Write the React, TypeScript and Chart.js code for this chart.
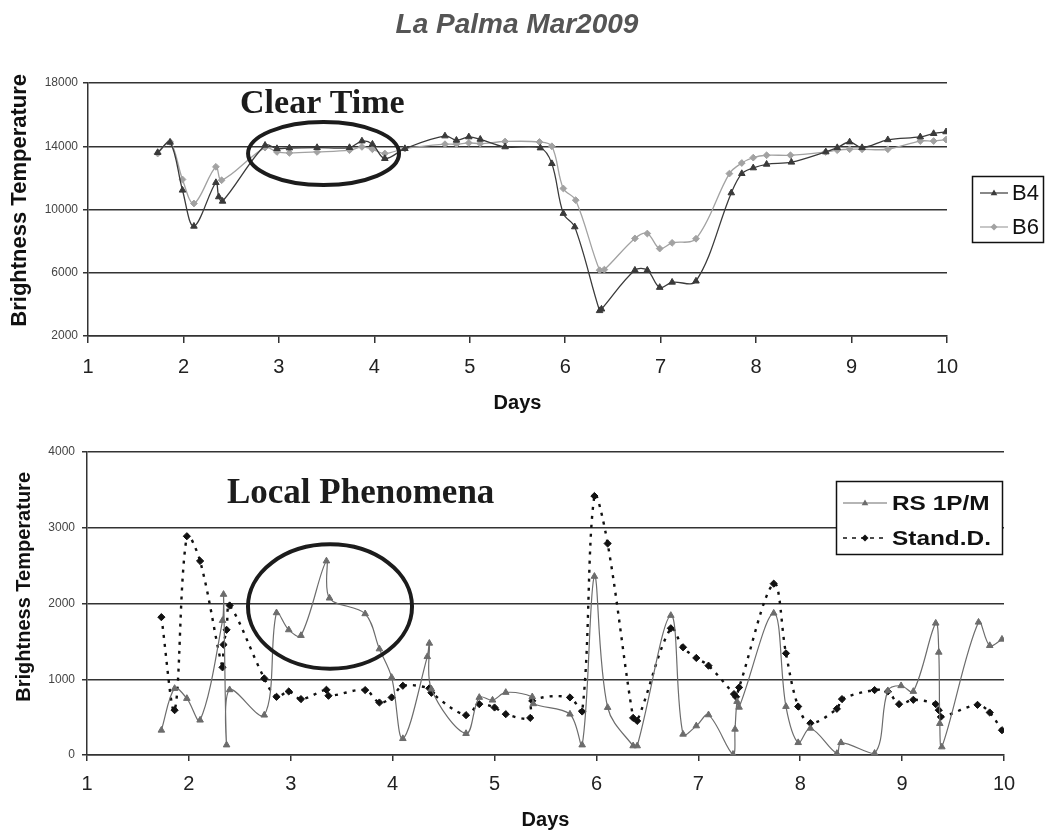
import React, { useEffect, useRef } from "react";
import { Chart, registerables } from "chart.js";

Chart.register(...registerables);

// ---- text ----
const chartTitle = "La Palma Mar2009";
const xTitle = "Days";
const yTitle = "Brightness Temperature";

// ---- axes ----
const dayTicks = [1, 2, 3, 4, 5, 6, 7, 8, 9, 10];
const upperTicks = [2000, 6000, 10000, 14000, 18000];
const lowerTicks = [0, 1000, 2000, 3000, 4000];

// ---- upper panel: band brightness temperatures ----
const b4Days = [1.73, 1.86, 1.99, 2.11, 2.34, 2.37, 2.41, 2.855, 2.98, 3.11, 3.40, 3.74, 3.87, 3.98, 4.11, 4.32, 4.74, 4.86, 4.99, 5.11, 5.37, 5.74, 5.86, 5.98, 6.10, 6.36, 6.38, 6.73, 6.86, 6.99, 7.12, 7.37, 7.74, 7.85, 7.97, 8.11, 8.37, 8.73, 8.85, 8.98, 9.11, 9.38, 9.72, 9.86, 9.99];
const b4Values = [13600, 14250, 11220, 8940, 11700, 10800, 10520, 14060, 13850, 13890, 13915, 13915, 14330, 14130, 13220, 13850, 14650, 14380, 14590, 14440, 13960, 13890, 12900, 9750, 8900, 3600, 3700, 6160, 6160, 5070, 5400, 5470, 11050, 12270, 12630, 12860, 12990, 13640, 13910, 14270, 13910, 14410, 14590, 14800, 14910];

const b6Days = [1.73, 1.86, 1.99, 2.11, 2.34, 2.40, 2.855, 2.98, 3.11, 3.40, 3.74, 3.87, 3.98, 4.11, 4.32, 4.74, 4.86, 4.99, 5.11, 5.37, 5.73, 5.86, 5.98, 6.11, 6.36, 6.41, 6.73, 6.86, 6.99, 7.12, 7.37, 7.72, 7.85, 7.97, 8.11, 8.36, 8.73, 8.85, 8.98, 9.11, 9.38, 9.72, 9.86, 9.99];
const b6Values = [13540, 14270, 11900, 10380, 12700, 11850, 13915, 13640, 13580, 13640, 13750, 13960, 13810, 13540, 13850, 14130, 14130, 14210, 14170, 14300, 14270, 14000, 11330, 10590, 6160, 6200, 8170, 8480, 7530, 7890, 8150, 12270, 12940, 13280, 13430, 13430, 13640, 13750, 13810, 13810, 13810, 14330, 14330, 14420];

// ---- lower panel: RS 1P/M and standard deviation ----
const rsDays = [1.73, 1.86, 1.98, 2.11, 2.33, 2.34, 2.37, 2.40, 2.74, 2.86, 2.98, 3.10, 3.35, 3.38, 3.73, 3.87, 3.99, 4.10, 4.34, 4.36, 4.38, 4.72, 4.85, 4.98, 5.11, 5.37, 5.38, 5.74, 5.86, 5.98, 6.11, 6.36, 6.40, 6.73, 6.85, 6.98, 7.10, 7.34, 7.36, 7.38, 7.40, 7.74, 7.86, 7.98, 8.10, 8.36, 8.40, 8.73, 8.86, 8.99, 9.11, 9.33, 9.36, 9.37, 9.39, 9.75, 9.86, 9.98];
const rsValues = [327, 878, 746, 460, 1775, 2120, 132, 861, 526, 1877, 1652, 1577, 2561, 2071, 1864, 1400, 1024, 216, 1298, 1475, 870, 283, 760, 724, 826, 768, 676, 539, 132, 2358, 627, 120, 120, 1842, 274, 384, 530, 9, 340, 706, 630, 1872, 640, 163, 353, 20, 163, 22, 848, 914, 839, 1740, 1356, 415, 106, 1753, 1444, 1528];

const sdDays = [1.73, 1.86, 1.98, 2.11, 2.33, 2.34, 2.37, 2.40, 2.74, 2.86, 2.98, 3.10, 3.35, 3.37, 3.73, 3.87, 3.99, 4.10, 4.36, 4.38, 4.72, 4.85, 5.00, 5.11, 5.35, 5.37, 5.74, 5.86, 5.98, 6.11, 6.36, 6.40, 6.73, 6.85, 6.98, 7.10, 7.35, 7.37, 7.40, 7.74, 7.86, 7.98, 8.10, 8.36, 8.41, 8.73, 8.86, 8.97, 9.11, 9.33, 9.36, 9.38, 9.74, 9.86, 9.98];
const sdValues = [1820, 592, 2888, 2561, 1157, 1457, 1652, 1974, 1011, 768, 839, 738, 861, 782, 857, 693, 760, 914, 881, 821, 526, 671, 627, 539, 490, 715, 760, 574, 3419, 2792, 490, 450, 1673, 1422, 1281, 1179, 804, 768, 892, 2262, 1342, 640, 420, 610, 738, 857, 839, 671, 729, 671, 592, 503, 662, 561, 327];

const SANS = '"Liberation Sans", Arial, Helvetica, sans-serif';
const SERIF = '"Liberation Serif", "Times New Roman", serif';
const INK = "#333333";

type Note = { text: string; x: number; y: number; size: number };
type Ring = { cx: number; cy: number; rx: number; ry: number };
type LegendItem = { label: string; color: string; marker: "triangle" | "diamond"; dash: number[]; y: number };
type LegendBox = { left: number; top: number; width: number; height: number; lineX0: number; lineX1: number; textX: number; font: string; stretch: number; items: LegendItem[] };

const pairs = (xs: number[], ys: number[]) => xs.map((x, i) => ({ x, y: ys[i] }));

function drawMarker(ctx: CanvasRenderingContext2D, kind: string, x: number, y: number, r: number, color: string) {
  ctx.beginPath();
  if (kind === "triangle") {
    ctx.moveTo(x, y - r);
    ctx.lineTo(x + r * 0.95, y + r * 0.65);
    ctx.lineTo(x - r * 0.95, y + r * 0.65);
  } else {
    ctx.moveTo(x, y - r);
    ctx.lineTo(x + r, y);
    ctx.lineTo(x, y + r);
    ctx.lineTo(x - r, y);
  }
  ctx.closePath();
  ctx.fillStyle = color;
  ctx.fill();
}

// Page heading, centred over the whole figure rather than the plot area.
function headingPlugin(text: string, cx: number, cy: number) {
  return {
    id: "heading",
    afterDraw(chart: any) {
      const { ctx } = chart;
      ctx.save();
      ctx.font = `italic bold 28px ${SANS}`;
      ctx.fillStyle = "#555555";
      ctx.textAlign = "center";
      ctx.textBaseline = "middle";
      ctx.fillText(text, cx, cy);
      ctx.restore();
    },
  };
}

// Caption text plus an ellipse highlighting a region, both placed in data units.
function notesPlugin(id: string, note: Note, ring: Ring) {
  return {
    id,
    afterDatasetsDraw(chart: any) {
      const { ctx, scales } = chart;
      const x = scales.x;
      const y = scales.y;
      ctx.save();
      ctx.fillStyle = "#1c1c1c";
      ctx.font = `bold ${note.size}px ${SERIF}`;
      ctx.textAlign = "left";
      ctx.textBaseline = "alphabetic";
      ctx.fillText(note.text, x.getPixelForValue(note.x), y.getPixelForValue(note.y));
      const cx = x.getPixelForValue(ring.cx);
      const cy = y.getPixelForValue(ring.cy);
      const rx = Math.abs(x.getPixelForValue(ring.cx + ring.rx) - cx);
      const ry = Math.abs(y.getPixelForValue(ring.cy + ring.ry) - cy);
      ctx.beginPath();
      ctx.ellipse(cx, cy, rx, ry, 0, 0, Math.PI * 2);
      ctx.lineWidth = 4;
      ctx.strokeStyle = "#1c1c1c";
      ctx.stroke();
      ctx.restore();
    },
  };
}

// Boxed legend in the spreadsheet style.
function boxLegendPlugin(id: string, box: LegendBox) {
  return {
    id,
    afterDraw(chart: any) {
      const { ctx } = chart;
      ctx.save();
      ctx.fillStyle = "#ffffff";
      ctx.fillRect(box.left, box.top, box.width, box.height);
      ctx.lineWidth = 1.5;
      ctx.strokeStyle = "#111111";
      ctx.strokeRect(box.left, box.top, box.width, box.height);
      for (const it of box.items) {
        ctx.beginPath();
        ctx.setLineDash(it.dash);
        ctx.lineWidth = it.dash.length ? 1.6 : 1.2;
        ctx.strokeStyle = it.color;
        ctx.moveTo(box.lineX0, it.y);
        ctx.lineTo(box.lineX1, it.y);
        ctx.stroke();
        ctx.setLineDash([]);
        drawMarker(ctx, it.marker, (box.lineX0 + box.lineX1) / 2, it.y, 3.5, it.color);
        ctx.save();
        ctx.translate(box.textX, it.y);
        ctx.scale(box.stretch, 1);
        ctx.font = box.font;
        ctx.fillStyle = "#111111";
        ctx.textAlign = "left";
        ctx.textBaseline = "middle";
        ctx.fillText(it.label, 0, 1);
        ctx.restore();
      }
      ctx.restore();
    },
  };
}

type AxisSpec = {
  yMin: number;
  yMax: number;
  yTicks: number[];
  yWidth: number;
  yTickPad: number;
  yTitle: string;
  yTitleSize: number;
  yTitlePad: number;
  xHeight: number;
  xTickLen: number;
  xTickPad: number;
  xTitlePad: number;
};

function buildScales(s: AxisSpec) {
  return {
    x: {
      type: "linear",
      min: 1,
      max: 10,
      afterBuildTicks: (scale: any) => {
        scale.ticks = dayTicks.map((value) => ({ value }));
      },
      afterFit: (scale: any) => {
        scale.height = s.xHeight;
      },
      grid: { drawOnChartArea: false, drawTicks: true, tickLength: s.xTickLen, color: INK, lineWidth: 1.5 },
      border: { display: true, color: INK, width: 1.5 },
      ticks: {
        padding: s.xTickPad,
        color: "#222222",
        font: { family: SANS, size: 20 },
        maxRotation: 0,
        autoSkip: false,
        callback: (v: any) => `${v}`,
      },
      title: {
        display: true,
        text: xTitle,
        color: "#111111",
        font: { family: SANS, size: 20, weight: "bold" },
        padding: { top: 0, bottom: s.xTitlePad },
      },
    },
    y: {
      type: "linear",
      min: s.yMin,
      max: s.yMax,
      afterBuildTicks: (scale: any) => {
        scale.ticks = s.yTicks.map((value) => ({ value }));
      },
      afterFit: (scale: any) => {
        scale.width = s.yWidth;
      },
      grid: { color: INK, lineWidth: 1.5, tickLength: 5, drawTicks: true },
      border: { display: true, color: INK, width: 1.5 },
      ticks: {
        padding: s.yTickPad,
        color: "#444444",
        font: { family: SANS, size: 12 },
        callback: (v: any) => `${v}`,
      },
      title: {
        display: true,
        text: s.yTitle,
        color: "#111111",
        font: { family: SANS, size: s.yTitleSize, weight: "bold" },
        padding: { top: s.yTitlePad, bottom: 0 },
      },
    },
  };
}

function upperConfig(): any {
  return {
    type: "line",
    data: {
      datasets: [
        {
          label: "B4",
          data: pairs(b4Days, b4Values),
          borderColor: "#3a3a3a",
          backgroundColor: "#3a3a3a",
          borderWidth: 1.3,
          pointStyle: "triangle",
          pointRadius: 3.8,
          pointBorderWidth: 1,
          tension: 0.35,
        },
        {
          label: "B6",
          data: pairs(b6Days, b6Values),
          borderColor: "#a2a2a2",
          backgroundColor: "#a2a2a2",
          borderWidth: 1.3,
          pointStyle: "rectRot",
          pointRadius: 3.4,
          pointBorderWidth: 1,
          tension: 0.35,
        },
      ],
    },
    options: {
      responsive: true,
      maintainAspectRatio: false,
      animation: false,
      layout: { padding: { left: 0, right: 98, top: 83, bottom: 14 } },
      plugins: {
        legend: { display: false },
        tooltip: { enabled: false },
      },
      scales: buildScales({
        yMin: 2000,
        yMax: 18000,
        yTicks: upperTicks,
        yWidth: 88,
        yTickPad: 5,
        yTitle: "   " + yTitle,
        yTitleSize: 22,
        yTitlePad: 7,
        xHeight: 80,
        xTickLen: 7,
        xTickPad: 12,
        xTitlePad: 1,
      }),
    },
    plugins: [
      headingPlugin(chartTitle, 517, 25),
      notesPlugin("clearTime", { text: "Clear Time", x: 2.593, y: 16120, size: 34 }, { cx: 3.468, cy: 13540, rx: 0.791, ry: 1992 }),
      boxLegendPlugin("bandLegend", {
        left: 972.5,
        top: 176.5,
        width: 71,
        height: 66,
        lineX0: 980,
        lineX1: 1008,
        textX: 1012,
        font: `22px ${SANS}`,
        stretch: 1,
        items: [
          { label: "B4", color: "#3a3a3a", marker: "triangle", dash: [], y: 193 },
          { label: "B6", color: "#a2a2a2", marker: "diamond", dash: [], y: 227 },
        ],
      }),
    ],
  };
}

function lowerConfig(): any {
  return {
    type: "line",
    data: {
      datasets: [
        {
          label: "RS 1P/M",
          data: pairs(rsDays, rsValues),
          borderColor: "#6c6c6c",
          backgroundColor: "#6c6c6c",
          borderWidth: 1.2,
          pointStyle: "triangle",
          pointRadius: 3.8,
          pointBorderWidth: 1,
          tension: 0.35,
        },
        {
          label: "Stand.D.",
          data: pairs(sdDays, sdValues),
          borderColor: "#111111",
          backgroundColor: "#111111",
          borderWidth: 2.4,
          borderDash: [3, 6],
          pointStyle: "rectRot",
          pointRadius: 3.6,
          pointBorderWidth: 1,
          tension: 0.35,
        },
      ],
    },
    options: {
      responsive: true,
      maintainAspectRatio: false,
      animation: false,
      layout: { padding: { left: 0, right: 41, top: 22, bottom: 2 } },
      plugins: {
        legend: { display: false },
        tooltip: { enabled: false },
      },
      scales: buildScales({
        yMin: 0,
        yMax: 4000,
        yTicks: lowerTicks,
        yWidth: 87,
        yTickPad: 7,
        yTitle: "      " + yTitle,
        yTitleSize: 20,
        yTitlePad: 12,
        xHeight: 77,
        xTickLen: 6,
        xTickPad: 11,
        xTitlePad: 0,
      }),
    },
    plugins: [
      notesPlugin("localPhenomena", { text: "Local Phenomena", x: 2.374, y: 3325, size: 35 }, { cx: 3.385, cy: 1960, rx: 0.805, ry: 821 }),
      boxLegendPlugin("seriesLegend", {
        left: 836.5,
        top: 51.5,
        width: 166,
        height: 73,
        lineX0: 843,
        lineX1: 887,
        textX: 892,
        font: `bold 20px ${SANS}`,
        stretch: 1.22,
        items: [
          { label: "RS 1P/M", color: "#6c6c6c", marker: "triangle", dash: [], y: 73 },
          { label: "Stand.D.", color: "#111111", marker: "diamond", dash: [4, 5], y: 108 },
        ],
      }),
    ],
  };
}

export default function App() {
  const upperRef = useRef<HTMLCanvasElement>(null);
  const lowerRef = useRef<HTMLCanvasElement>(null);

  useEffect(() => {
    const upper = new Chart(upperRef.current as HTMLCanvasElement, upperConfig());
    const lower = new Chart(lowerRef.current as HTMLCanvasElement, lowerConfig());
    return () => {
      upper.destroy();
      lower.destroy();
    };
  }, []);

  return (
    <div style={{ position: "fixed", left: 0, top: 0, width: 1045, height: 834, background: "#ffffff" }}>
      <div style={{ position: "absolute", left: 0, top: 0, width: 1045, height: 430 }}>
        <canvas ref={upperRef} />
      </div>
      <div style={{ position: "absolute", left: 0, top: 430, width: 1045, height: 404 }}>
        <canvas ref={lowerRef} />
      </div>
    </div>
  );
}
